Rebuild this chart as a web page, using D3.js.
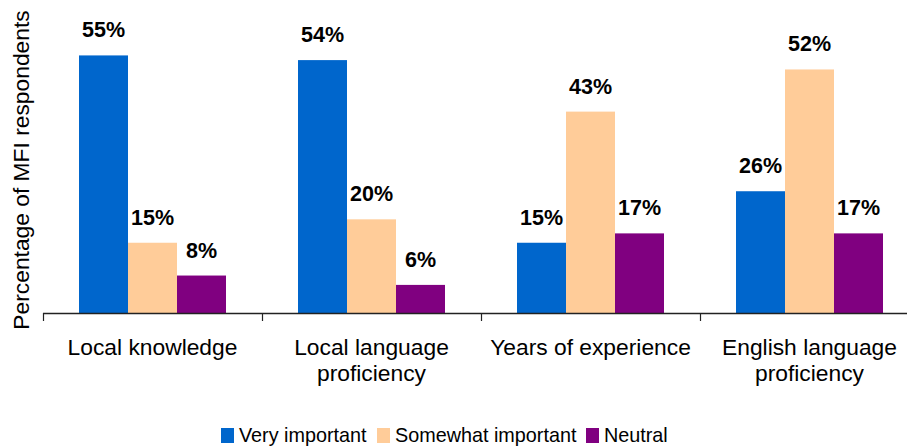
<!DOCTYPE html>
<html><head><meta charset="utf-8">
<script src="https://cdn.jsdelivr.net/npm/d3@7"></script>
<style>body{margin:0;background:#fff}svg{display:block;font-family:"Liberation Sans",Arial,sans-serif}</style>
</head><body><svg id="c" width="907" height="447"></svg>
<script>
const categories = [["Local knowledge"], ["Local language", "proficiency"], ["Years of experience"], ["English language", "proficiency"]];
const series = ["Very important", "Somewhat important", "Neutral"];
const colors = ["#0066CC", "#FFCC99", "#800080"];
const veryImportant = [55, 54, 15, 26];
const somewhatImportant = [15, 20, 43, 52];
const neutral = [8, 6, 17, 17];
const values = [veryImportant, somewhatImportant, neutral];

const svg = d3.select("#c");
const x0 = d3.scaleBand().domain(d3.range(categories.length)).range([43, 919]).padding(0);
const x1 = d3.scaleBand().domain(d3.range(series.length)).range([36, x0.bandwidth() - 36]).padding(0);
const y = d3.scaleLinear().domain([0, 60]).range([313, 32]);

const g = svg.append("g");
series.forEach((s, si) => {
  g.selectAll(null).data(values[si]).enter().append("rect")
    .attr("x", (d, i) => x0(i) + x1(si))
    .attr("y", d => y(d))
    .attr("width", x1.bandwidth())
    .attr("height", d => y(0) - y(d))
    .attr("fill", colors[si]);
  g.selectAll(null).data(values[si]).enter().append("text")
    .attr("x", (d, i) => x0(i) + x1(si) + x1.bandwidth() / 2)
    .attr("y", d => y(d) - 18)
    .attr("text-anchor", "middle")
    .attr("font-weight", "bold")
    .attr("font-size", 21.5)
    .attr("fill", "#000")
    .text(d => d + "%");
});

// x axis
const ax = svg.append("g");
ax.append("line").attr("x1", 43).attr("x2", 919).attr("y1", 313.5).attr("y2", 313.5).attr("stroke", "#222").attr("stroke-width", 1.3);
const tickPos = d3.range(categories.length + 1).map(i => i < categories.length ? x0(i) : x0.range()[1]);
ax.selectAll(null).data(tickPos).enter().append("line")
  .attr("x1", d => d + 0.5).attr("x2", d => d + 0.5).attr("y1", 313).attr("y2", 321)
  .attr("stroke", "#222").attr("stroke-width", 1.2);

categories.forEach((lines, i) => {
  const t = ax.append("text").attr("text-anchor", "middle").attr("font-size", 22.8).attr("fill", "#000");
  lines.forEach((ln, li) => {
    t.append("tspan").attr("x", x0(i) + x0.bandwidth() / 2).attr("y", 355 + li * 26).text(ln);
  });
});

// y title
svg.append("text").attr("transform", "translate(29,170) rotate(-90)")
  .attr("text-anchor", "middle").attr("font-size", 22.8).attr("fill", "#000")
  .text("Percentage of MFI respondents");

// legend
const legX = [221, 377, 586];
const leg = svg.append("g");
series.forEach((s, si) => {
  leg.append("rect").attr("x", legX[si]).attr("y", 428).attr("width", 13).attr("height", 15).attr("fill", colors[si]);
  leg.append("text").attr("x", legX[si] + 18).attr("y", 442).attr("font-size", 19.8).attr("fill", "#000").text(s);
});
</script></body></html>
